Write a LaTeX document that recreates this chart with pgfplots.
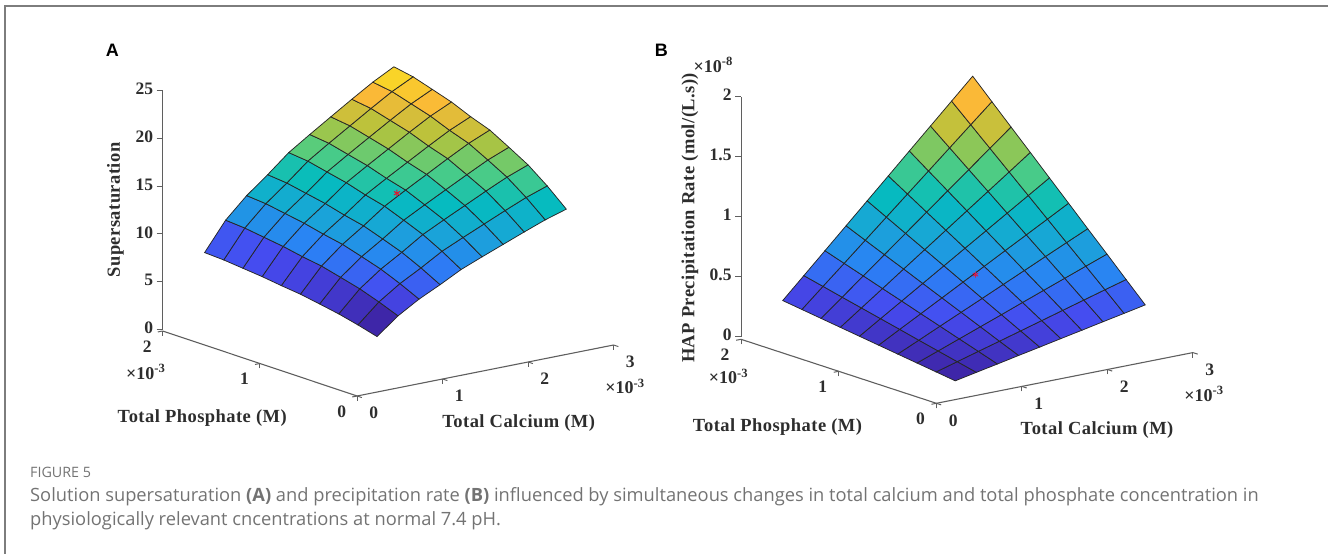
\documentclass[border=0pt]{standalone}
\usepackage{pgfplots}
\pgfplotsset{compat=1.18}
\usepackage{fontspec}
\setmainfont{Liberation Serif}
\newfontfamily\panelfont{Liberation Sans}
\newfontfamily\capfont{Open Sans}
\definecolor{txt}{RGB}{45,45,45}
\definecolor{axc}{RGB}{95,95,95}
\definecolor{capc}{RGB}{115,115,115}
\definecolor{frame}{RGB}{125,125,125}
\pgfplotsset{
  colormap={parulaish}{rgb255=(62,38,168) rgb255=(70,75,240) rgb255=(42,130,245) rgb255=(25,165,215) rgb255=(5,188,190) rgb255=(80,205,130) rgb255=(180,195,60) rgb255=(250,185,55) rgb255=(248,230,30)},
  common3d/.style={
    anchor=origin, clip=false,
    axis x line*=left, axis y line*=left, hide z axis,
    xmin=0,xmax=3,ymin=0,ymax=2,
    xtick={0,1,2,3}, ytick={0,1,2},
    tick align=outside, major tick length=5pt,
    axis line style={draw=axc,line width=1.1pt},
    tick style={draw=axc,line width=1pt},
    /pgf/number format/assume math mode=true,
    tick label style={font=\fontsize{17.5}{17.5}\selectfont\bfseries,text=txt,anchor=center},
    z buffer=none,
  },
  commonz/.style={
    anchor=origin, x=1pt, xmin=0,xmax=1, hide x axis,
    axis y line*=left,
    tick align=outside, major tick length=6pt,
    axis line style={draw=axc,line width=1.1pt},
    tick style={draw=axc,line width=1pt},
    /pgf/number format/assume math mode=true,
    tick label style={font=\fontsize{17.5}{17.5}\selectfont\bfseries,text=txt,yshift=1.5pt},
    xtick=\empty,
  },
  surfstyle/.style={surf,shader=flat corner,draw=black!85,line width=0.75pt,mesh/rows=10,mesh/cols=10},
}
\newcommand{\lab}[1]{\fontsize{18.5}{20}\selectfont\bfseries\addfontfeature{LetterSpace=2.5}\textcolor{txt}{#1}}
\newcommand{\tenexp}[1]{\fontsize{18}{18}\selectfont\bfseries\textcolor{txt}{×10\textsuperscript{#1}}}
\begin{document}
\begin{tikzpicture}
\useasboundingbox (0pt,0pt) rectangle (1328pt,554pt);
\draw[frame,line width=1.2pt] (5pt,0pt) -- (5pt,548pt) -- (1328pt,548pt);

% Panel A
\begin{axis}[common3d, at={(357.1pt,158pt)},
  x={(85.5pt,17pt)}, y={(-97.2pt,32.5pt)}, z={(0pt,9.573pt)},
  zmin=0,zmax=25,
  point meta min=4.57, point meta max=22.2,
  xticklabel style={xshift=12pt,yshift=-15.5pt},
  yticklabel style={xshift=-10.5pt,yshift=-14.5pt},
]
\addplot3[surfstyle] table[x index=0,y index=1,z index=2,row sep=\\]{
0.490 0.226 4.57\\0.736 0.226 6.30\\0.982 0.226 7.61\\1.228 0.226 8.68\\1.474 0.226 9.83\\1.720 0.226 10.72\\1.966 0.226 11.58\\2.212 0.226 12.44\\2.458 0.226 13.27\\2.704 0.226 13.95\\
0.490 0.423 5.12\\0.736 0.423 7.09\\0.982 0.423 8.57\\1.228 0.423 9.77\\1.474 0.423 11.07\\1.720 0.423 12.07\\1.966 0.423 13.04\\2.212 0.423 14.01\\2.458 0.423 14.94\\2.704 0.423 15.71\\
0.490 0.620 5.60\\0.736 0.620 7.79\\0.982 0.620 9.41\\1.228 0.620 10.73\\1.474 0.620 12.15\\1.720 0.620 13.25\\1.966 0.620 14.31\\2.212 0.620 15.38\\2.458 0.620 16.40\\2.704 0.620 17.24\\
0.490 0.817 5.97\\0.736 0.817 8.32\\0.982 0.817 10.05\\1.228 0.817 11.46\\1.474 0.817 12.98\\1.720 0.817 14.15\\1.966 0.817 15.29\\2.212 0.817 16.42\\2.458 0.817 17.52\\2.704 0.817 18.41\\
0.490 1.014 6.32\\0.736 1.014 8.83\\0.982 1.014 10.66\\1.228 1.014 12.16\\1.474 1.014 13.77\\1.720 1.014 15.02\\1.966 1.014 16.22\\2.212 1.014 17.43\\2.458 1.014 18.59\\2.704 1.014 19.54\\
0.490 1.211 6.55\\0.736 1.211 9.15\\0.982 1.211 11.06\\1.228 1.211 12.61\\1.474 1.211 14.28\\1.720 1.211 15.58\\1.966 1.211 16.83\\2.212 1.211 18.08\\2.458 1.211 19.28\\2.704 1.211 20.27\\
0.490 1.408 6.82\\0.736 1.408 9.54\\0.982 1.408 11.53\\1.228 1.408 13.15\\1.474 1.408 14.89\\1.720 1.408 16.24\\1.966 1.408 17.54\\2.212 1.408 18.85\\2.458 1.408 20.10\\2.704 1.408 21.13\\
0.490 1.606 7.02\\0.736 1.606 9.83\\0.982 1.606 11.88\\1.228 1.606 13.55\\1.474 1.606 15.34\\1.720 1.606 16.73\\1.966 1.606 18.08\\2.212 1.606 19.42\\2.458 1.606 20.71\\2.704 1.606 21.78\\
0.490 1.803 7.22\\0.736 1.803 10.12\\0.982 1.803 12.23\\1.228 1.803 13.95\\1.474 1.803 15.80\\1.720 1.803 17.23\\1.966 1.803 18.61\\2.212 1.803 19.99\\2.458 1.803 21.32\\2.704 1.803 22.42\\
0.490 2.000 7.32\\0.736 2.000 10.27\\0.982 2.000 12.40\\1.228 2.000 14.15\\1.474 2.000 16.02\\1.720 2.000 17.47\\1.966 2.000 18.88\\2.212 2.000 20.28\\2.458 2.000 21.63\\2.704 2.000 22.80\\
};
\addplot3[only marks,mark=asterisk,mark size=3.5pt,mark options={draw={rgb,255:red,220;green,25;blue,50},line width=1pt}] coordinates {(1.66,1.05,14.67)};
\end{axis}
\begin{axis}[commonz, at={(162.7pt,224.3pt)}, y=9.573pt, ymin=0,ymax=25, ytick={0,5,10,15,20,25}]
\end{axis}

% Panel B
\begin{axis}[common3d, at={(936.4pt,150.7pt)},
  x={(85.5pt,16.9pt)}, y={(-97.7pt,32pt)}, z={(0pt,120pt)},
  zmin=0,zmax=2,
  point meta min=0.056, point meta max=1.70,
  xticklabel style={xshift=12pt,yshift=-15.7pt},
  yticklabel style={xshift=-11pt,yshift=-14.3pt},
]
\addplot3[surfstyle] table[x index=0,y index=1,z index=2,row sep=\\]{
0.488 0.234 0.056\\0.735 0.234 0.092\\0.982 0.234 0.127\\1.229 0.234 0.163\\1.476 0.234 0.198\\1.723 0.234 0.234\\1.969 0.234 0.269\\2.216 0.234 0.305\\2.463 0.234 0.340\\2.710 0.234 0.376\\
0.488 0.430 0.078\\0.735 0.430 0.129\\0.982 0.430 0.180\\1.229 0.430 0.230\\1.476 0.430 0.281\\1.723 0.430 0.332\\1.969 0.430 0.383\\2.216 0.430 0.434\\2.463 0.430 0.485\\2.710 0.430 0.535\\
0.488 0.626 0.100\\0.735 0.626 0.166\\0.982 0.626 0.232\\1.229 0.626 0.298\\1.476 0.626 0.364\\1.723 0.626 0.431\\1.969 0.626 0.497\\2.216 0.626 0.563\\2.463 0.626 0.629\\2.710 0.626 0.695\\
0.488 0.823 0.122\\0.735 0.823 0.203\\0.982 0.823 0.285\\1.229 0.823 0.366\\1.476 0.823 0.447\\1.723 0.823 0.529\\1.969 0.823 0.610\\2.216 0.823 0.692\\2.463 0.823 0.773\\2.710 0.823 0.854\\
0.488 1.019 0.144\\0.735 1.019 0.241\\0.982 1.019 0.337\\1.229 1.019 0.434\\1.476 1.019 0.531\\1.723 1.019 0.627\\1.969 1.019 0.724\\2.216 1.019 0.820\\2.463 1.019 0.917\\2.710 1.019 1.014\\
0.488 1.215 0.166\\0.735 1.215 0.278\\0.982 1.215 0.390\\1.229 1.215 0.502\\1.476 1.215 0.614\\1.723 1.215 0.726\\1.969 1.215 0.837\\2.216 1.215 0.949\\2.463 1.215 1.061\\2.710 1.215 1.173\\
0.488 1.411 0.188\\0.735 1.411 0.315\\0.982 1.411 0.442\\1.229 1.411 0.570\\1.476 1.411 0.697\\1.723 1.411 0.824\\1.969 1.411 0.951\\2.216 1.411 1.078\\2.463 1.411 1.205\\2.710 1.411 1.333\\
0.488 1.608 0.210\\0.735 1.608 0.352\\0.982 1.608 0.495\\1.229 1.608 0.637\\1.476 1.608 0.780\\1.723 1.608 0.922\\1.969 1.608 1.065\\2.216 1.608 1.207\\2.463 1.608 1.350\\2.710 1.608 1.492\\
0.488 1.804 0.232\\0.735 1.804 0.390\\0.982 1.804 0.547\\1.229 1.804 0.705\\1.476 1.804 0.863\\1.723 1.804 1.021\\1.969 1.804 1.178\\2.216 1.804 1.336\\2.463 1.804 1.494\\2.710 1.804 1.651\\
0.488 2.000 0.254\\0.735 2.000 0.427\\0.982 2.000 0.600\\1.229 2.000 0.773\\1.476 2.000 0.946\\1.723 2.000 1.119\\1.969 2.000 1.292\\2.216 2.000 1.465\\2.463 2.000 1.638\\2.710 2.000 1.811\\
};
\addplot3[only marks,mark=asterisk,mark size=3pt,mark options={draw={rgb,255:red,220;green,25;blue,70},line width=0.9pt}] coordinates {(1.6,1.0,0.58)};
\end{axis}
\begin{axis}[commonz, at={(741.1pt,217.3pt)}, y=120pt, ymin=0,ymax=2, ytick={0,0.5,1,1.5,2}]
\end{axis}

% Texts
\node[font=\panelfont\fontsize{18}{18}\selectfont\bfseries] at (112.3pt,503.5pt) {A};
\node[font=\panelfont\fontsize{18}{18}\selectfont\bfseries] at (661.4pt,504pt) {B};
\node at (202.2pt,136pt) {\lab{Total Phosphate (M)}};
\node at (518.7pt,131.3pt) {\lab{Total Calcium (M)}};
\node[rotate=90] at (115.4pt,344pt) {\lab{Supersaturation}};
\node at (145.8pt,182pt) {\tenexp{-3}};
\node at (625pt,167.3pt) {\tenexp{-3}};
\node at (777.5pt,127.3pt) {\lab{Total Phosphate (M)}};
\node at (1097pt,124pt) {\lab{Total Calcium (M)}};
\node[rotate=90] at (690pt,336pt) {\lab{HAP Precipitation Rate (mol/(L.s))}};
\node at (713.2pt,489pt) {\tenexp{-8}};
\node at (728.6pt,177.3pt) {\tenexp{-3}};
\node at (1204pt,160pt) {\tenexp{-3}};

% Caption
\node[anchor=base west,inner sep=0pt,text=capc,font=\capfont\fontsize{14.3}{14.3}\selectfont] at (30pt,76pt) {FIGURE 5};
\node[anchor=base west,inner sep=0pt,text=capc,font=\capfont\fontsize{18.3}{18.3}\selectfont] at (30pt,52pt) {Solution supersaturation {\bfseries (A)} and precipitation rate {\bfseries (B)} influenced by simultaneous changes in total calcium and total phosphate concentration in};
\node[anchor=base west,inner sep=0pt,text=capc,font=\capfont\fontsize{18.3}{18.3}\selectfont] at (30pt,28pt) {physiologically relevant cncentrations at normal 7.4 pH.};
\end{tikzpicture}
\end{document}
